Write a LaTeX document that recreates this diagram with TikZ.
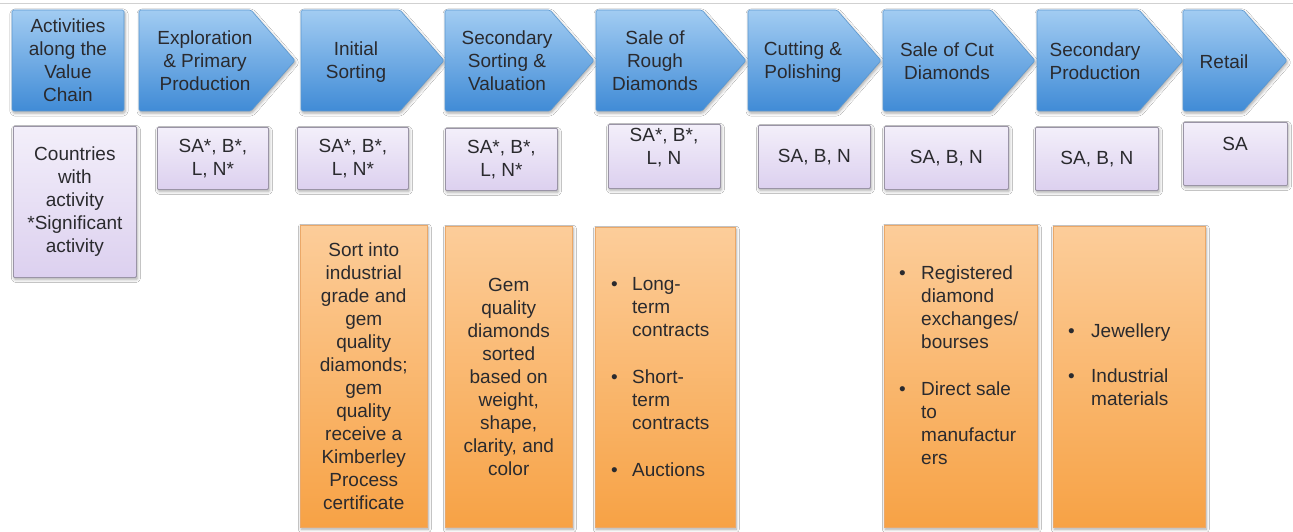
\documentclass[tikz,border=0pt]{standalone}
\usepackage{fontspec}
\setmainfont{Liberation Sans}
\usetikzlibrary{shadows.blur}

\definecolor{stageTop}{HTML}{A2CCF2}
\definecolor{stageBot}{HTML}{408BD6}
\definecolor{stageEdge}{HTML}{5A97D0}
\definecolor{cTop}{HTML}{F3EFFA}
\definecolor{cBot}{HTML}{DCD0EF}
\definecolor{cEdge}{HTML}{9A94A6}
\definecolor{oTop}{HTML}{FCCD9A}
\definecolor{oBot}{HTML}{F7A245}
\definecolor{oEdge}{HTML}{EBA868}
\definecolor{ink}{HTML}{2A2A2E}

\tikzset{
  x=1pt, y=-1pt,
  softshadow/.style={blur shadow={shadow xshift=1pt, shadow yshift=-2pt,
      shadow blur radius=3pt, shadow opacity=35}},
  stage/.style={top color=stageTop, bottom color=stageBot, draw=stageEdge,
      line width=0.6pt, rounded corners=1.5pt, softshadow},
  lbl/.style={align=center, text=ink, inner sep=0pt,
      font=\fontsize{19}{23}\selectfont},
  cbox/.style={rectangle, anchor=north west, top color=cTop, bottom color=cBot,
      draw=cEdge, line width=0.8pt, inner sep=0pt, rounded corners=1pt, softshadow,
      align=center, text=ink, font=\fontsize{19}{23}\selectfont},
  obox/.style={rectangle, anchor=north west, top color=oTop, bottom color=oBot,
      draw=oEdge, line width=0.5pt, inner sep=0pt, softshadow,
      align=center, text=ink, font=\fontsize{19}{23}\selectfont},
  blist/.style={anchor=west, text=ink, inner sep=0pt,
      font=\fontsize{19}{23}\selectfont},
}

% one chevron of the value chain: left x, tip x
\newcommand{\chevron}[2]{%
  \path[stage] (#1,10) -- ({#2-44},10) -- (#2,60.5) -- ({#2-44},111) -- (#1,111) -- cycle;}

\begin{document}
\begin{tikzpicture}
\useasboundingbox (0,0) rectangle (1293,532);
\fill[white] (0,0) rectangle (1293,532);
\draw[black!18, line width=1pt] (0,4) -- (1293,4);

% ---- value chain header ----
\path[stage] (12,10) rectangle (124,111);
\chevron{139}{295}
\chevron{301}{444}
\chevron{445}{594}
\chevron{596}{746}
\chevron{748}{881}
\chevron{883}{1035}
\chevron{1037}{1183}
\chevron{1183}{1287}

\node[lbl] (s1) at (68,60)   {Activities\\along the\\Value\\Chain};
\node[lbl] (s2) at (205,61)  {Exploration\\\& Primary\\Production};
\node[lbl] (s3) at (356,62)  {Initial\\Sorting};
\node[lbl] (s4) at (507,61)  {Secondary\\Sorting \&\\Valuation};
\node[lbl] (s5) at (655,61)  {Sale of\\Rough\\Diamonds};
\node[lbl] (s6) at (803,62)  {Cutting \&\\Polishing};
\node[lbl] (s7) at (947,61)  {Sale of Cut\\Diamonds};
\node[lbl] (s8) at (1095,61) {Secondary\\Production};
\node[lbl] (s9) at (1224,62) {Retail};

% ---- countries with activity ----
\node[cbox, minimum width=123pt, minimum height=151pt] (c1) at (13,126)
  {Countries\\with\\activity\\*Significant\\activity};
\node[cbox, minimum width=111pt, minimum height=62pt] (c2) at (157,127) {SA*, B*,\\L, N*};
\node[cbox, minimum width=111pt, minimum height=62pt] (c3) at (297,127) {SA*, B*,\\L, N*};
\node[cbox, minimum width=112pt, minimum height=62pt] (c4) at (445,128) {SA*, B*,\\L, N*};
\node[cbox, minimum width=112pt, minimum height=64pt] (c5) at (608,124) {};
\node[lbl] (c5t) at (664,148) {SA*, B*,\\L, N};
\node[cbox, minimum width=112pt, minimum height=63pt] (c6) at (758,125) {SA, B, N};
\node[cbox, minimum width=124pt, minimum height=63pt] (c7) at (884,126) {SA, B, N};
\node[cbox, minimum width=123pt, minimum height=63pt] (c8) at (1035,127) {SA, B, N};
\node[cbox, minimum width=104pt, minimum height=63pt] (c9) at (1183,122) {};
\node[lbl] (c9t) at (1235,144) {SA};

% ---- activity details ----
\node[obox, minimum width=127pt, minimum height=302pt] (o1) at (300,225)
  {Sort into\\industrial\\grade and\\gem\\quality\\diamonds;\\gem\\quality\\receive a\\Kimberley\\Process\\certificate};
\node[obox, minimum width=127pt, minimum height=301pt] (o2) at (445,226)
  {Gem\\quality\\diamonds\\sorted\\based on\\weight,\\shape,\\clarity, and\\color};
\node[obox, minimum width=140pt, minimum height=300pt] (o3) at (595,227) {};
\node[blist] (o3t) at (611,379)
  {\begin{tabular}{@{}p{21pt}@{}l@{}}
   \textbullet & Long-\\ & term\\ & contracts\\[24pt]
   \textbullet & Short-\\ & term\\ & contracts\\[24pt]
   \textbullet & Auctions
   \end{tabular}};
\node[obox, minimum width=153pt, minimum height=302pt] (o4) at (884,225) {};
\node[blist] (o4t) at (899,367)
  {\begin{tabular}{@{}p{22pt}@{}l@{}}
   \textbullet & Registered\\ & diamond\\ & exchanges/\\ & bourses\\[24pt]
   \textbullet & Direct sale\\ & to\\ & manufactur\\ & ers
   \end{tabular}};
\node[obox, minimum width=152pt, minimum height=301pt] (o5) at (1053,226) {};
\node[blist] (o5t) at (1068,367)
  {\begin{tabular}{@{}p{23pt}@{}l@{}}
   \textbullet & Jewellery\\[22pt]
   \textbullet & Industrial\\ & materials
   \end{tabular}};
\end{tikzpicture}
\end{document}
